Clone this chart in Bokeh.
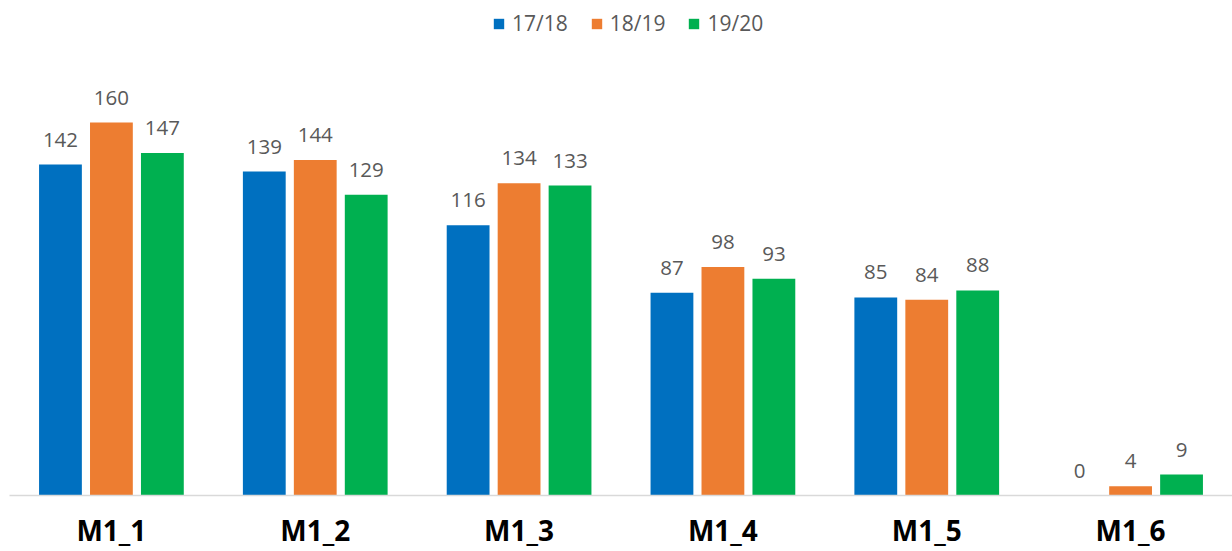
from bokeh.plotting import figure
from bokeh.models import ColumnDataSource, Range1d, FactorRange, Legend, LegendItem
from bokeh.transform import dodge
from bokeh.core.properties import value
from bokeh.embed import file_html
from bokeh.resources import INLINE

categories = ["M1_1", "M1_2", "M1_3", "M1_4", "M1_5", "M1_6"]
seasons = ["17/18", "18/19", "19/20"]
v1718 = [142, 139, 116, 87, 85, 0]
v1819 = [160, 144, 134, 98, 84, 4]
v1920 = [147, 129, 133, 93, 88, 9]
colors = ["#0070C0", "#ED7D31", "#00B050"]

series = [v1718, v1819, v1920]
offsets = [-0.25, 0.0, 0.25]

data = dict(cat=categories)
for i, s in enumerate(series):
    data[f"v{i}"] = s
    data[f"l{i}"] = [str(v) for v in s]
src = ColumnDataSource(data)

p = figure(frame_width=1223, frame_height=495, x_range=FactorRange(*categories),
           y_range=Range1d(0, 212.4), output_backend="svg", toolbar_location=None,
           min_border_left=9, min_border_right=0, min_border_top=0, min_border_bottom=0,
           y_axis_location=None)

font = value("Open Sans")
items = []
for i, s in enumerate(seasons):
    r = p.vbar(x=dodge("cat", offsets[i], range=p.x_range), top=f"v{i}", width=0.21,
               source=src, fill_color=colors[i], line_color=None)
    p.text(x=dodge("cat", offsets[i], range=p.x_range), y=f"v{i}", text=f"l{i}", source=src,
           text_align="center", text_baseline="alphabetic", y_offset=-25,
           text_font=font, text_font_size="20.5px", text_color="#595959")
    items.append(LegendItem(label=s, renderers=[r]))

legend = Legend(items=items, orientation="horizontal", location=(483, 458),
                border_line_color=None, background_fill_alpha=0,
                label_text_font="Open Sans", label_text_font_size="21px",
                label_text_color="#595959", glyph_width=13, glyph_height=13,
                label_standoff=7, spacing=22, padding=0, margin=0)
p.add_layout(legend, "center")

p.xgrid.visible = False
p.ygrid.visible = False
p.outline_line_color = None
ax = p.xaxis[0]
ax.major_tick_line_color = None
ax.minor_tick_line_color = None
ax.axis_line_color = "#D9D9D9"
ax.axis_line_width = 1.5
ax.major_label_text_font = "Open Sans"
ax.major_label_text_font_size = "28px"
ax.major_label_text_font_style = "bold"
ax.major_label_text_color = "#000000"
ax.major_label_standoff = 9

open("out.html", "w").write(file_html(p, INLINE))
